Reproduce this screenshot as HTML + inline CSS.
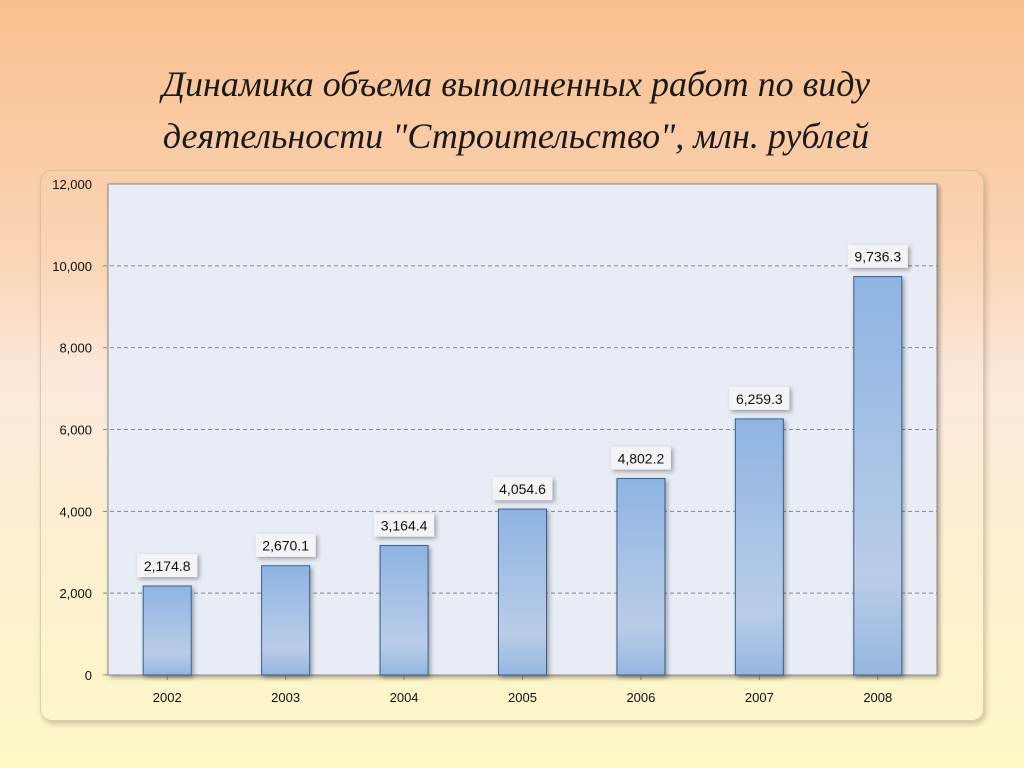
<!DOCTYPE html>
<html><head><meta charset="utf-8"><style>
html,body{margin:0;padding:0}
body{width:1024px;height:768px;overflow:hidden;background:linear-gradient(180deg,#f9bf8e 0%,#fbd6b8 35%,#fce9dc 50%,#fdefd0 70%,#fdf8c6 100%);font-family:"Liberation Sans",sans-serif;position:relative}
#title{position:absolute;left:4px;width:1024px;top:58px;text-align:center;font-family:"Liberation Serif","DejaVu Serif",serif;font-style:italic;font-size:36px;line-height:52px;color:#1a1a1a}
#panel{position:absolute;left:40px;top:170px;width:942px;height:549px;border:1px solid rgba(200,180,150,.6);border-radius:12px;box-shadow:2px 3px 6px rgba(120,100,70,.35)}
svg{position:absolute;left:0;top:0}
</style></head><body>
<div id="title">Динамика объема выполненных работ по виду<br>деятельности "Строительство", млн. рублей</div>
<div id="panel"></div>
<svg id="chart" width="1024" height="768">
<defs>
<linearGradient id="barg" x1="0" y1="0" x2="0" y2="1">
<stop offset="0" stop-color="#8eb4e3"/><stop offset="0.75" stop-color="#b9cde8"/><stop offset="1" stop-color="#95b6e0"/>
</linearGradient>
<filter id="sh" x="-30%" y="-30%" width="160%" height="160%"><feDropShadow dx="2" dy="2" stdDeviation="2.5" flood-color="#000" flood-opacity="0.35"/></filter>
</defs>
</svg>
<script>
const categories=["2002","2003","2004","2005","2006","2007","2008"];
const values=[2174.8,2670.1,3164.4,4054.6,4802.2,6259.3,9736.3];
const valueLabels=["2,174.8","2,670.1","3,164.4","4,054.6","4,802.2","6,259.3","9,736.3"];
const yTicks=[0,2000,4000,6000,8000,10000,12000];
const yTickLabels=["0","2,000","4,000","6,000","8,000","10,000","12,000"];
const X0=108,X1=937,Y0=675,Y1=184,YMAX=12000;
const svg=document.getElementById('chart');
const NS='http://www.w3.org/2000/svg';
function y(v){return Y0-(v/YMAX)*(Y0-Y1);}
const bw=(X1-X0)/categories.length;
function xc(i){return X0+bw*(i+0.5);}
function mk(t,a,p){const e=document.createElementNS(NS,t);for(const k in a)e.setAttribute(k,a[k]);(p||svg).appendChild(e);return e;}
const plot=mk('rect',{x:X0,y:Y1,width:X1-X0,height:Y0-Y1,fill:'#e8ecf5',stroke:'#8a8a8a','stroke-width':1,filter:'url(#sh)'});


yTicks.forEach((t,i)=>{
  if(t>0&&t<YMAX){const g=mk('line',{x1:103,x2:X1,y1:y(t),y2:y(t),stroke:'#888','stroke-dasharray':'4,3','stroke-width':1});
  
  }
  const l=mk('text',{x:92,y:y(t)+5,'text-anchor':'end','font-size':13,fill:'#111'});
  l.textContent=yTickLabels[i];
  
  
});
mk('line',{x1:103,x2:X1,y1:Y0,y2:Y0,stroke:'#888'});
categories.forEach((c,i)=>{
  const cx=xc(i),w=48;
  const tk=mk('line',{x1:cx,x2:cx,y1:Y0,y2:Y0+5,stroke:'#888'});
  const b=mk('rect',{x:cx-w/2,y:y(values[i]),width:w,height:Y0-y(values[i]),fill:'url(#barg)',stroke:'#3b5f8a','stroke-width':1,filter:'url(#sh)'});
  
  
  const by=y(values[i])-32;
  const box=mk('rect',{x:cx-30,y:by,width:60,height:23,fill:'#f3f4f8',filter:'url(#sh)'});
  
  
  const vt=mk('text',{x:cx,y:by+17,'text-anchor':'middle','font-size':14,fill:'#111'});
  vt.textContent=valueLabels[i];
  
  
  const xt=mk('text',{x:cx,y:Y0+27,'text-anchor':'middle','font-size':13,fill:'#111'});
  xt.textContent=c;
  
  
});
</script>
</body></html>
